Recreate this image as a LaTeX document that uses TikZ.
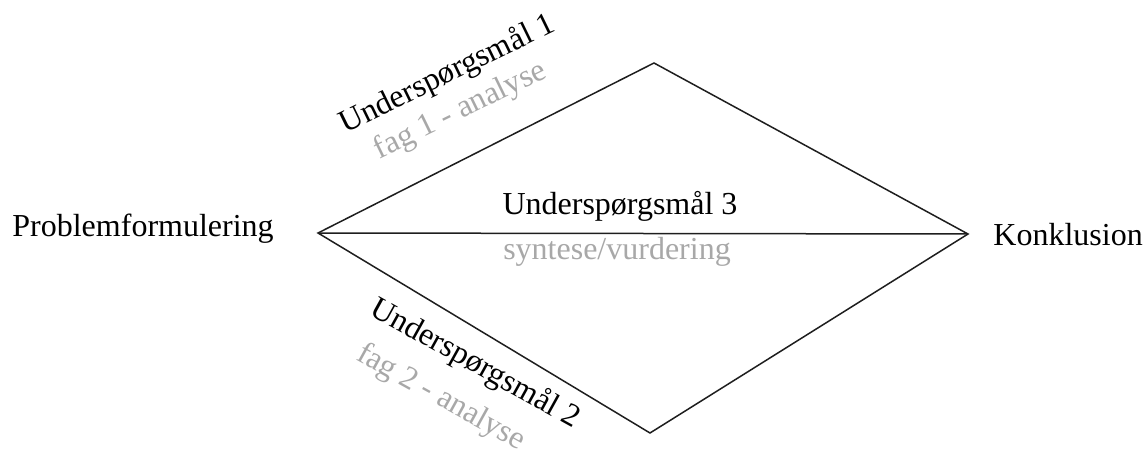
\documentclass[tikz,border=0pt]{standalone}
\usepackage{fontspec}
\setmainfont{Liberation Serif}
\definecolor{lightgraytext}{RGB}{168,168,168}
\definecolor{linecol}{RGB}{30,30,30}
\begin{document}
\begin{tikzpicture}[x=0.5pt,y=-0.5pt,
  lbl/.style={inner sep=0pt, font=\fontsize{16}{19}\selectfont},
  sub/.style={lbl, text=lightgraytext},
  edge/.style={draw=linecol, line width=0.75pt, line join=miter}]
\useasboundingbox (0,0) rectangle (1145,454);
\coordinate (L) at (318,233);
\coordinate (T) at (654,63);
\coordinate (R) at (968,234);
\coordinate (B) at (650,433);
\draw[edge] (L) -- (T) -- (R) -- (B) -- cycle;
\draw[edge] (L) -- (R);
\node[lbl, anchor=base west] (pf) at (12,237) {Problemformulering};
\node[lbl, anchor=base west] (kon) at (993,246) {Konklusion};
\node[lbl, anchor=base] (u3) at (620,215) {Underspørgsmål 3};
\node[sub, anchor=base] (s3) at (617,259) {syntese/vurdering};
\node[lbl, anchor=base, rotate=26] (u1) at (451,82) {Underspørgsmål 1};
\node[sub, anchor=base, rotate=26] (s1) at (464,118) {fag 1 - analyse};
\node[lbl, anchor=base, rotate=-29] (u2) at (471,371) {Underspørgsmål 2};
\node[sub, anchor=base, rotate=-29] (s2) at (437,405) {fag 2 - analyse};
\end{tikzpicture}
\end{document}
